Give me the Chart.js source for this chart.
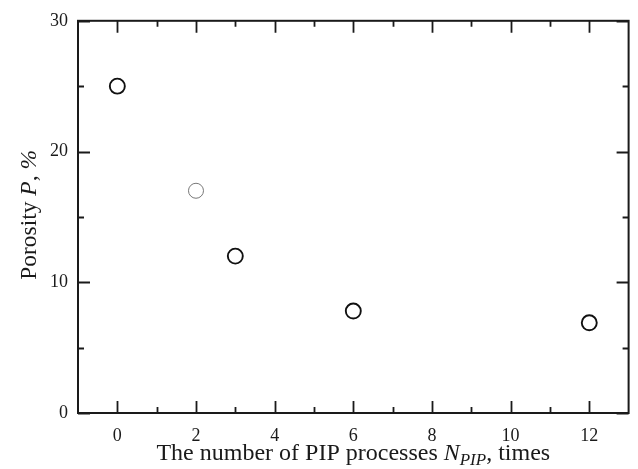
<!DOCTYPE html>
<html>
<head>
<meta charset="utf-8">
<script src="https://cdn.jsdelivr.net/npm/chart.js@4"></script>
<style>
  html, body { margin: 0; padding: 0; background: #fff; }
  #wrap { width: 638px; height: 469px; position: relative; }
</style>
</head>
<body>
<div id="wrap"><canvas id="chart"></canvas></div>
<script>
// data
const pipTimes = [0, 2, 3, 6, 12];
const porosity = [25, 17, 12, 7.8, 6.9];

const xMajorTicks = [0, 2, 4, 6, 8, 10, 12];
const xMinorTicks = [1, 3, 5, 7, 9, 11];
const yMajorTicks = [0, 10, 20, 30];
const yMinorTicks = [5, 15, 25];

// the second sample is drawn lighter in the original
const markerColors = ['#111', '#777', '#111', '#111', '#111'];
const markerWidths = [1.9, 1, 1.9, 1.9, 1.9];

const serif = '"Liberation Serif", "DejaVu Serif", serif';
const ink = '#1a1a1a';

// frame, inward ticks on all four sides, and the axis titles
const framePlugin = {
    id: 'frame',
    afterDraw(chart) {
        const ctx = chart.ctx;
        const { left, right, top, bottom } = chart.chartArea;
        const xs = chart.scales.x;
        const ys = chart.scales.y;

        ctx.save();
        ctx.strokeStyle = ink;
        ctx.lineWidth = 2;
        ctx.strokeRect(left, top, right - left, bottom - top);

        ctx.lineWidth = 1.8;
        ctx.beginPath();
        const xTick = (v, len) => {
            const px = Math.round(xs.getPixelForValue(v)) + 0.5;
            ctx.moveTo(px, bottom); ctx.lineTo(px, bottom - len);
            ctx.moveTo(px, top); ctx.lineTo(px, top + len);
        };
        const yTick = (v, len) => {
            const py = Math.round(ys.getPixelForValue(v)) + 0.5;
            ctx.moveTo(left, py); ctx.lineTo(left + len, py);
            ctx.moveTo(right, py); ctx.lineTo(right - len, py);
        };
        xMajorTicks.forEach(v => xTick(v, 12));
        xMinorTicks.forEach(v => xTick(v, 6));
        yMajorTicks.forEach(v => yTick(v, 12));
        yMinorTicks.forEach(v => yTick(v, 6));
        ctx.stroke();

        ctx.fillStyle = ink;
        ctx.textBaseline = 'alphabetic';

        // x title: The number of PIP processes N_PIP, times
        const xParts = [
            { t: 'The number of PIP processes ', f: '24px ' + serif, dy: 0 },
            { t: 'N', f: 'italic 24px ' + serif, dy: 0 },
            { t: 'PIP', f: 'italic 17px ' + serif, dy: 5 },
            { t: ', times', f: '24px ' + serif, dy: 0 }
        ];
        let w = 0;
        xParts.forEach(p => { ctx.font = p.f; w += ctx.measureText(p.t).width; });
        let cx = (left + right) / 2 - w / 2;
        xParts.forEach(p => {
            ctx.font = p.f;
            ctx.fillText(p.t, cx, 460 + p.dy);
            cx += ctx.measureText(p.t).width;
        });

        // y title: Porosity P, %
        const yParts = [
            { t: 'Porosity ', f: '23.5px ' + serif },
            { t: 'P', f: 'italic 23.5px ' + serif },
            { t: ', ', f: '23.5px ' + serif },
            { t: '%', f: 'italic 23.5px ' + serif }
        ];
        w = 0;
        yParts.forEach(p => { ctx.font = p.f; w += ctx.measureText(p.t).width; });
        ctx.translate(36, (top + bottom) / 2 - 2);
        ctx.rotate(-Math.PI / 2);
        cx = -w / 2;
        yParts.forEach(p => {
            ctx.font = p.f;
            ctx.fillText(p.t, cx, 0);
            cx += ctx.measureText(p.t).width;
        });
        ctx.restore();
    }
};

new Chart(document.getElementById('chart'), {
    type: 'scatter',
    data: {
        datasets: [{
            data: pipTimes.map((x, i) => ({ x, y: porosity[i] })),
            pointRadius: 7.5,
            pointHoverRadius: 7.5,
            pointBackgroundColor: 'rgba(0,0,0,0)',
            pointBorderColor: markerColors,
            pointBorderWidth: markerWidths,
            showLine: false
        }]
    },
    options: {
        responsive: true,
        maintainAspectRatio: false,
        animation: false,
        events: [],
        layout: { padding: { top: 19, right: 5, left: 0, bottom: 0 } },
        plugins: { legend: { display: false }, tooltip: { enabled: false } },
        scales: {
            x: {
                type: 'linear',
                min: -1,
                max: 13,
                grid: { display: false, drawTicks: false },
                border: { display: false },
                afterBuildTicks: s => { s.ticks = xMajorTicks.map(v => ({ value: v })); },
                afterFit: s => { s.height = 56; },
                ticks: {
                    padding: 12,
                    color: ink,
                    maxRotation: 0,
                    font: { family: serif, size: 18 }
                }
            },
            y: {
                min: 0,
                max: 30,
                grid: { display: false, drawTicks: false },
                border: { display: false },
                afterBuildTicks: s => { s.ticks = yMajorTicks.map(v => ({ value: v })); },
                afterFit: s => { s.width = 78; },
                ticks: {
                    padding: 10,
                    color: ink,
                    font: { family: serif, size: 18 }
                }
            }
        }
    },
    plugins: [framePlugin]
});
</script>
</body>
</html>
